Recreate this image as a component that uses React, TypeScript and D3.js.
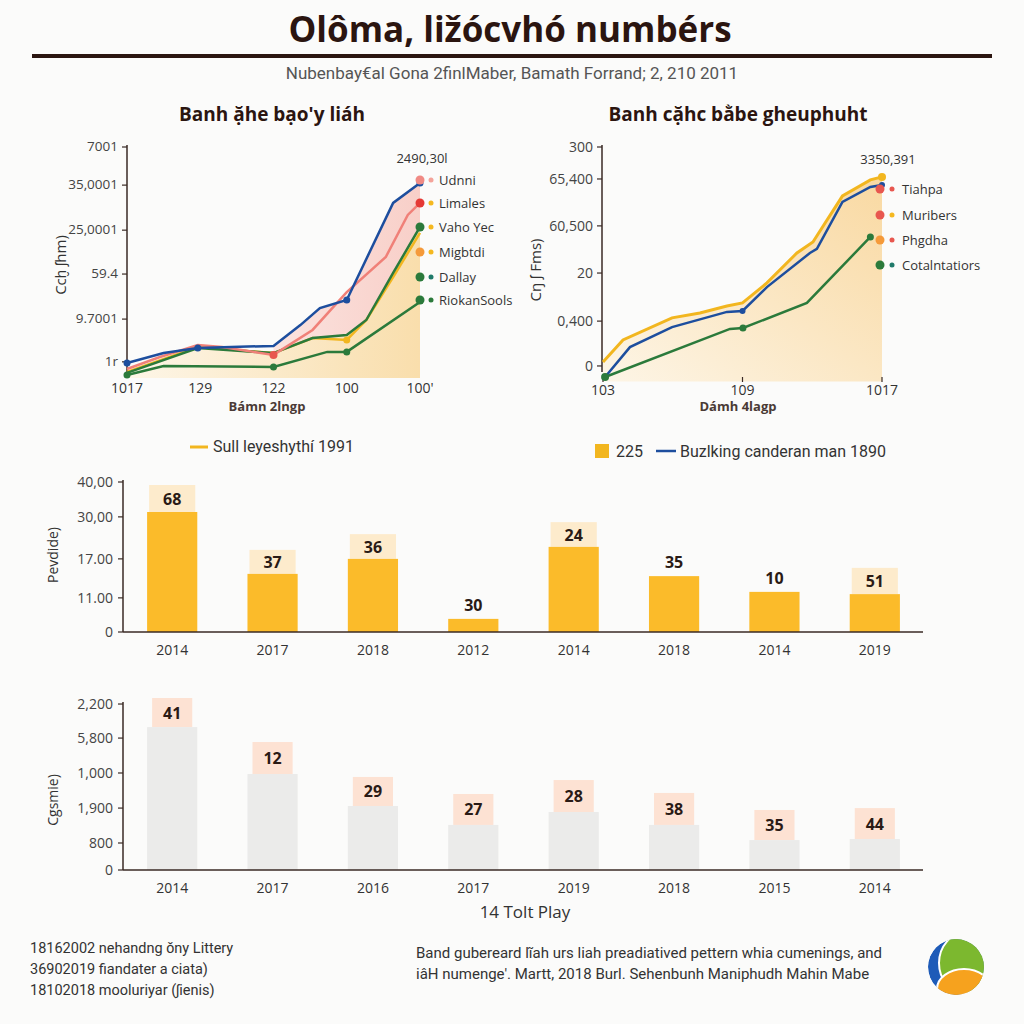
import React from "react";
import * as d3 from "d3";

// ---------- DATA ----------
const titleText = "Olôma, ližócvhó numbérs";
const subtitleText = "Nubenbay€al Gona 2finlMaber, Bamath Forrand; 2, 210 2011";

// Left line chart
const leftTitle = "Banh ặhe bạo'y liáh";
const leftYTickVals = [100, 83.5, 64, 45, 25.5, 7];
const leftYTickLabels = ["7001", "35,0001", "25,0001", "59.4", "9.7001", "1r"];
const leftXTickVals = [0, 3, 6, 9, 12];
const leftXTickLabels = ["1017", "129", "122", "100", "100'"];
const leftBlue: [number, number][] = [[0, 6.5], [1.5, 10.8], [2.9, 13], [6, 13.9], [7.1, 22.9], [7.9, 30.3], [9, 33.8], [10.9, 75.8], [12, 84.4]];
const leftPink: [number, number][] = [[0, 3.9], [1.35, 9.1], [2.9, 14.3], [3.9, 13.4], [6, 10], [7.6, 20.8], [9, 37.2], [10.6, 52.4], [11.5, 70.6], [12, 75.8]];
const leftYellow: [number, number][] = [[0, 2.6], [2.9, 13.4], [6, 10.8], [7.6, 17.3], [9, 16.5], [9.8, 25.1], [10.9, 43.7], [12, 62.8]];
const leftGreen1: [number, number][] = [[0, 2.2], [2.9, 13], [6, 10.8], [7.6, 17.3], [9, 18.6], [9.8, 25.1], [10.9, 45.5], [12, 65.4]];
const leftGreen2: [number, number][] = [[0, 1.3], [1.5, 5.2], [6, 4.8], [8.2, 11.3], [9, 11.3], [12, 32.9]];
const leftAnnot = "2490,30l";
const leftLegendLabels = ["Udnni", "Limales", "Vaho Yec", "Migbtdi", "Dallay", "RiokanSools"];
const leftLegendColors = [["#f08a84", "#f4a39a"], ["#e53935", "#f5b81f"], ["#2b7a3b", "#f5b81f"], ["#f59a3a", "#f5b81f"], ["#2b7a3b", "#1f7a6a"], ["#2b7a3b", "#2b7a3b"]];
const leftXTitle = "Bámn 2lngp";
const leftYTitle = "Ccḫ ʃhm)";

// Right line chart
const rightTitle = "Banh cặhc bằbe gheuphuht";
const rightYTickVals = [100, 86.1, 65.7, 45.2, 24.3, 4.8];
const rightYTickLabels = ["300", "65,400", "60,500", "20", "0,400", "0"];
const rightXTickVals = [0, 6, 12];
const rightXTickLabels = ["103", "109", "1017"];
const rightYellow: [number, number][] = [[0, 6.5], [0.86, 16.1], [2.97, 25.7], [4.17, 27.8], [5.33, 30.9], [6, 32.2], [7.05, 40.9], [8.34, 53.9], [9.03, 58.7], [10.3, 78.7], [11.5, 85.7], [12, 87]];
const rightBlue: [number, number][] = [[0.09, 0], [1.16, 13], [2.97, 21.7], [5.33, 28.3], [6, 28.7], [7.05, 39.1], [8.9, 53.9], [9.2, 55.7], [10.3, 76.1], [11.5, 82.6], [12, 83.5]];
const rightGreen: [number, number][] = [[0.09, 0], [5.46, 20.9], [6.02, 21.3], [8.77, 32.2], [11.5, 60.9]];
const rightAnnot = "3350,391";
const rightLegendLabels = ["Tiahpa", "Muribers", "Phgdha", "Cotalntatiors"];
const rightLegendColors = [["#e8574f", "#e8574f"], ["#e8574f", "#f5b81f"], ["#f59a3a", "#e8574f"], ["#2b7a3b", "#1f7a6a"]];
const rightXTitle = "Dámh 4lagp";
const rightYTitle = "Cŋ ʃ Fms)";

// Middle legend
const midLegendLeft = "Sull leyeshythí 1991";
const midLegendNum = "225";
const midLegendRight = "Buzlking canderan man 1890";

// Bar chart 1
const bar1Cats = ["2014", "2017", "2018", "2012", "2014", "2018", "2014", "2019"];
const bar1Vals = [32, 15.5, 19.5, 3.5, 22.7, 14.9, 10.7, 10.1];
const bar1Caps: (number | null)[] = [39.2, 21.9, 26.1, null, 29.3, null, null, 17.1];
const bar1Labels = ["68", "37", "36", "30", "24", "35", "10", "51"];
const bar1TickVals = [40, 30.7, 19.5, 9.1, 0];
const bar1TickLabels = ["40,00", "30,00", "17.00", "11.00", "0"];
const bar1YTitle = "Pevdide)";

// Bar chart 2
const bar2Cats = ["2014", "2017", "2016", "2017", "2019", "2018", "2015", "2014"];
const bar2Vals = [83.1, 55.8, 37.2, 26.2, 33.7, 26.2, 17.4, 18.0];
const bar2Caps = [100, 74.4, 54.1, 44.2, 52.3, 44.8, 34.9, 36.0];
const bar2Labels = ["41", "12", "29", "27", "28", "38", "35", "44"];
const bar2TickVals = [96.5, 76.7, 56.4, 36.0, 15.7, 0];
const bar2TickLabels = ["2,200", "5,800", "1,000", "1,900", "800", "0"];
const bar2YTitle = "Cgsmie)";
const bar2XTitle = "14 Tolt Play";

// Footer
const footerLeft = ["18162002 nehandng ǒny Littery", "36902019 fiandater a ciata)", "18102018 mooluriyar (ʃienis)"];
const footerRight = ["Band gubereard lĩah urs liah preadiatived pettern whia cumenings, and", "iâH numenge'. Martt, 2018 Burl. Sehenbunh Maniphudh Mahin Mabe"];

// ---------- COLORS ----------
const BLUE = "#1d4e9e";
const PINK = "#f08078";
const YELLOW = "#f2b61f";
const GREEN = "#2b7a3b";
const DARK = "#2b1510";
const FONT = "'Open Sans', sans-serif";

function LineChartLeft() {
  const x = d3.scaleLinear().domain([0, 12]).range([127, 420]);
  const y = d3.scaleLinear().domain([0, 100]).range([378, 147]);
  const line = d3.line<[number, number]>().x(d => x(d[0])).y(d => y(d[1])).curve(d3.curveLinear);
  const area = d3.area<[number, number]>().x(d => x(d[0])).y0(y(0)).y1(d => y(d[1]));
  const pinkArea = leftBlue.filter(d => d[0] >= 6);
  return (
    <g>
      <defs>
        <linearGradient id="lgL" x1="0" x2="1" y1="0" y2="0">
          <stop offset="0" stopColor="#fdf6e8" />
          <stop offset="1" stopColor="#f9deac" />
        </linearGradient>
        <linearGradient id="lgP" x1="0" x2="1" y1="0" y2="0">
          <stop offset="0" stopColor="#fbe3df" />
          <stop offset="1" stopColor="#f8cfc8" />
        </linearGradient>
      </defs>
      <text x={272} y={121} textAnchor="middle" fontFamily={FONT} fontWeight={700} fontSize={19} fill={DARK}>{leftTitle}</text>
      <path d={area(pinkArea) || ""} fill="url(#lgP)" />
      <path d={area(leftGreen1) || ""} fill="url(#lgL)" />
      <line x1={127} x2={127} y1={145} y2={372} stroke="#3a2a25" strokeWidth={1.5} />
      {leftYTickVals.map((v, i) => (
        <g key={i}>
          <line x1={122} x2={127} y1={y(v)} y2={y(v)} stroke="#3a2a25" strokeWidth={1.2} />
          <text x={118} y={y(v) + 4} textAnchor="end" fontFamily={FONT} fontSize={13.5} fill="#444">{leftYTickLabels[i]}</text>
        </g>
      ))}
      {leftXTickVals.map((v, i) => (
        <text key={i} x={x(v)} y={393} textAnchor="middle" fontFamily={FONT} fontSize={14} fill="#333">{leftXTickLabels[i]}</text>
      ))}
      <text x={267} y={411} textAnchor="middle" fontFamily={FONT} fontWeight={700} fontSize={13} fill="#4a3a35">{leftXTitle}</text>
      <text transform="translate(66,265) rotate(-90)" textAnchor="middle" fontFamily={FONT} fontSize={15} fill="#333">{leftYTitle}</text>
      <path d={line(leftGreen2) || ""} fill="none" stroke={GREEN} strokeWidth={2.5} />
      <path d={line(leftYellow) || ""} fill="none" stroke={YELLOW} strokeWidth={2.5} />
      <path d={line(leftGreen1) || ""} fill="none" stroke={GREEN} strokeWidth={2.5} />
      <path d={line(leftPink) || ""} fill="none" stroke={PINK} strokeWidth={2.5} />
      <path d={line(leftBlue) || ""} fill="none" stroke={BLUE} strokeWidth={2.5} />
      {[leftBlue[0], leftBlue[2], leftBlue[6], leftBlue[8]].map((d, i) => (
        <circle key={"b" + i} cx={x(d[0])} cy={y(d[1])} r={3.5} fill={BLUE} />
      ))}
      <circle cx={x(leftPink[4][0])} cy={y(leftPink[4][1])} r={4} fill="#e8574f" />
      <circle cx={x(leftYellow[4][0])} cy={y(leftYellow[4][1])} r={3.5} fill={YELLOW} />
      {[leftGreen2[0], leftGreen2[2], leftGreen2[4]].map((d, i) => (
        <circle key={"g" + i} cx={x(d[0])} cy={y(d[1])} r={3.5} fill={GREEN} />
      ))}
      <text x={422} y={163} textAnchor="middle" fontFamily={FONT} fontSize={13} fill="#333">{leftAnnot}</text>
      {leftLegendLabels.map((l, i) => {
        const ly = [180, 203, 227, 252, 277, 300][i];
        return (
          <g key={i}>
            <circle cx={420} cy={ly} r={4.5} fill={leftLegendColors[i][0]} />
            <circle cx={431} cy={ly} r={2.5} fill={leftLegendColors[i][1]} />
            <text x={439} y={ly + 5} fontFamily={FONT} fontSize={13} fill="#333">{l}</text>
          </g>
        );
      })}
    </g>
  );
}

function LineChartRight() {
  const x = d3.scaleLinear().domain([0, 12]).range([603, 882]);
  const y = d3.scaleLinear().domain([0, 100]).range([377, 147]);
  const line = d3.line<[number, number]>().x(d => x(d[0])).y(d => y(d[1]));
  const area = d3.area<[number, number]>().x(d => x(d[0])).y0(y(-2)).y1(d => y(d[1]));
  return (
    <g>
      <defs>
        <linearGradient id="lgR" x1="0" x2="1" y1="1" y2="0">
          <stop offset="0" stopColor="#fdf5e6" />
          <stop offset="1" stopColor="#f9d9a2" />
        </linearGradient>
      </defs>
      <text x={738} y={121} textAnchor="middle" fontFamily={FONT} fontWeight={700} fontSize={19} fill={DARK}>{rightTitle}</text>
      <path d={area(rightYellow) || ""} fill="url(#lgR)" />
      <line x1={602} x2={602} y1={145} y2={372} stroke="#3a2a25" strokeWidth={1.5} />
      {rightYTickVals.map((v, i) => (
        <g key={i}>
          <line x1={597} x2={602} y1={y(v)} y2={y(v)} stroke="#3a2a25" strokeWidth={1.2} />
          <text x={593} y={y(v) + 5} textAnchor="end" fontFamily={FONT} fontSize={14} fill="#444">{rightYTickLabels[i]}</text>
        </g>
      ))}
      {rightXTickVals.map((v, i) => (
        <g key={i}>
          <line x1={x(v)} x2={x(v)} y1={377} y2={382} stroke="#3a2a25" strokeWidth={1.2} />
          <text x={x(v)} y={395} textAnchor="middle" fontFamily={FONT} fontSize={14} fill="#333">{rightXTickLabels[i]}</text>
        </g>
      ))}
      <text x={738} y={411} textAnchor="middle" fontFamily={FONT} fontWeight={700} fontSize={13} fill="#4a3a35">{rightXTitle}</text>
      <text transform="translate(541,270) rotate(-90)" textAnchor="middle" fontFamily={FONT} fontSize={15} fill="#333">{rightYTitle}</text>
      <path d={line(rightGreen) || ""} fill="none" stroke={GREEN} strokeWidth={2.5} />
      <path d={line(rightYellow) || ""} fill="none" stroke={YELLOW} strokeWidth={3} />
      <path d={line(rightBlue) || ""} fill="none" stroke={BLUE} strokeWidth={2.5} />
      <circle cx={x(rightGreen[0][0])} cy={y(rightGreen[0][1])} r={4} fill={GREEN} />
      <circle cx={x(rightGreen[2][0])} cy={y(rightGreen[2][1])} r={3.5} fill={GREEN} />
      <circle cx={x(rightGreen[4][0])} cy={y(rightGreen[4][1])} r={3.5} fill={GREEN} />
      <circle cx={x(rightBlue[4][0])} cy={y(rightBlue[4][1])} r={3} fill={BLUE} />
      <circle cx={x(rightYellow[11][0])} cy={y(rightYellow[11][1])} r={4} fill={YELLOW} />
      <circle cx={x(rightBlue[10][0])} cy={y(rightBlue[10][1])} r={3} fill={BLUE} />
      <text x={888} y={164} textAnchor="middle" fontFamily={FONT} fontSize={13} fill="#333">{rightAnnot}</text>
      {rightLegendLabels.map((l, i) => {
        const ly = [189, 215, 240, 265][i];
        return (
          <g key={i}>
            <circle cx={880} cy={ly} r={4.5} fill={rightLegendColors[i][0]} />
            <circle cx={892} cy={ly} r={2.5} fill={rightLegendColors[i][1]} />
            <text x={902} y={ly + 5} fontFamily={FONT} fontSize={13} fill="#333">{l}</text>
          </g>
        );
      })}
    </g>
  );
}

function BarChart(props: {
  vals: number[]; caps: (number | null)[]; labels: string[]; cats: string[];
  tickVals: number[]; tickLabels: string[]; yTitle: string;
  y0: number; y1: number; domainMax: number; barColor: string; capColor: string; capFrac: number; catY: number; titleY: number;
}) {
  const { vals, caps, labels, cats, tickVals, tickLabels, yTitle, y0, y1, domainMax, barColor, capColor, capFrac, catY, titleY } = props;
  const x = d3.scaleBand<number>().domain(d3.range(vals.length)).range([122, 925]).paddingInner(0.5).paddingOuter(0.25);
  const y = d3.scaleLinear().domain([0, domainMax]).range([y0, y1]);
  const bw = x.bandwidth();
  return (
    <g>
      {vals.map((v, i) => {
        const cx = (x(i) || 0) + bw / 2;
        const cap = caps[i];
        const cw = bw * capFrac;
        return (
          <g key={i}>
            {cap !== null && (
              <rect x={cx - cw / 2} y={y(cap)} width={cw} height={y(v) - y(cap)} fill={capColor} />
            )}
            <rect x={cx - bw / 2} y={y(v)} width={bw} height={y0 - y(v)} fill={barColor} />
            <text x={cx} y={cap !== null ? (y(cap) + y(v)) / 2 + 6 : y(v) - 8}
              textAnchor="middle" fontFamily={FONT} fontWeight={700} fontSize={16} fill="#2a1a15">{labels[i]}</text>
            <text x={cx} y={catY} textAnchor="middle" fontFamily={FONT} fontSize={14} fill="#333">{cats[i]}</text>
          </g>
        );
      })}
      <line x1={123} x2={923} y1={y0} y2={y0} stroke="#3a2a25" strokeWidth={1.5} />
      <line x1={123} x2={123} y1={y(tickVals[0]) - 2} y2={y0} stroke="#3a2a25" strokeWidth={1.5} />
      {tickVals.map((v, i) => (
        <g key={i}>
          <line x1={118} x2={123} y1={y(v)} y2={y(v)} stroke="#3a2a25" strokeWidth={1.2} />
          <text x={113} y={y(v) + 5} textAnchor="end" fontFamily={FONT} fontSize={14} fill="#444">{tickLabels[i]}</text>
        </g>
      ))}
      <text transform={`translate(58,${titleY}) rotate(-90)`} textAnchor="middle" fontFamily={FONT} fontSize={14} fill="#333">{yTitle}</text>
    </g>
  );
}

function Logo() {
  const cx = 956, cy = 967, r = 28;
  return (
    <g>
      <defs>
        <clipPath id="logoClip">
          <circle cx={cx} cy={cy} r={r} />
        </clipPath>
      </defs>
      <g clipPath="url(#logoClip)">
        <circle cx={cx} cy={cy} r={r} fill="#1e5bb8" />
        <ellipse cx={cx + 9} cy={cy - 4} rx={26} ry={30} fill="#7cb82f" stroke="#fff" strokeWidth={2} />
        <ellipse cx={cx + 8} cy={cy + 22} rx={27} ry={20} fill="#f6a21e" stroke="#fff" strokeWidth={2} />
      </g>
    </g>
  );
}

export default function App() {
  return (
    <div style={{ position: "absolute", left: 0, top: 0 }}>
      <svg width={1024} height={1024} viewBox="0 0 1024 1024" style={{ display: "block" }}>
        <rect x={0} y={0} width={1024} height={1024} fill="#fbfbfa" />
        <text x={510} y={42} textAnchor="middle" fontFamily={FONT} fontWeight={700} fontSize={35} fill={DARK}>{titleText}</text>
        <rect x={32} y={54} width={960} height={4} fill={DARK} />
        <text x={512} y={79} textAnchor="middle" fontFamily="Roboto, sans-serif" fontSize={17} fill="#555">{subtitleText}</text>

        <LineChartLeft />
        <LineChartRight />

        <line x1={190} x2={208} y1={447} y2={447} stroke={YELLOW} strokeWidth={3} />
        <text x={213} y={452} fontFamily="Roboto, sans-serif" fontSize={16} fill="#333">{midLegendLeft}</text>
        <rect x={595} y={444} width={14} height={14} fill={YELLOW} />
        <text x={616} y={457} fontFamily="Roboto, sans-serif" fontSize={16} fill="#333">{midLegendNum}</text>
        <line x1={656} x2={676} y1={451} y2={451} stroke={BLUE} strokeWidth={2.5} />
        <text x={680} y={457} fontFamily="Roboto, sans-serif" fontSize={16} fill="#333">{midLegendRight}</text>

        <BarChart vals={bar1Vals} caps={bar1Caps} labels={bar1Labels} cats={bar1Cats}
          tickVals={bar1TickVals} tickLabels={bar1TickLabels} yTitle={bar1YTitle}
          y0={632} y1={482} domainMax={40} barColor="#fbbb2a" capColor="#fdebcc" capFrac={0.92} catY={655} titleY={555} />
        <BarChart vals={bar2Vals} caps={bar2Caps} labels={bar2Labels} cats={bar2Cats}
          tickVals={bar2TickVals} tickLabels={bar2TickLabels} yTitle={bar2YTitle}
          y0={870} y1={698} domainMax={100} barColor="#ebebea" capColor="#fde2d3" capFrac={0.8} catY={893} titleY={800} />
        <text x={525} y={918} textAnchor="middle" fontFamily={FONT} fontSize={17} fill="#333">{bar2XTitle}</text>

        {footerLeft.map((t, i) => (
          <text key={i} x={30} y={953 + i * 21} fontFamily="Roboto, sans-serif" fontSize={14.5} fill="#333">{t}</text>
        ))}
        {footerRight.map((t, i) => (
          <text key={i} x={416} y={958 + i * 21} fontFamily="Roboto, sans-serif" fontSize={15} fill="#333">{t}</text>
        ))}
        <Logo />
      </svg>
    </div>
  );
}
